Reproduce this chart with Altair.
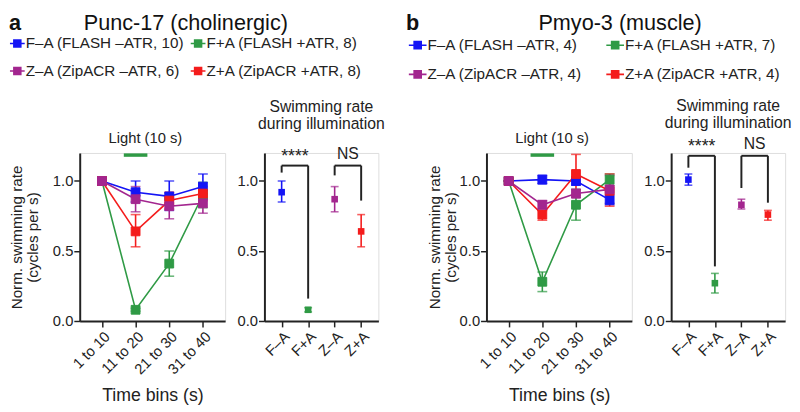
import altair as alt
import pandas as pd

FONT = "Liberation Sans"
INK = "#222222"

# ---------------- data ----------------
BINS = ["1 to 10", "11 to 20", "21 to 30", "31 to 40"]
GROUPS = ["F–A", "F+A", "Z–A", "Z+A"]
COLORS = ["#1414f5", "#2f9a45", "#a3268f", "#f41c1c"]
DRAW_ORDER = ["F–A", "F+A", "Z+A", "Z–A"]

LEGEND_A = ["F–A (FLASH –ATR, 10)", "F+A (FLASH +ATR, 8)",
            "Z–A (ZipACR –ATR, 6)", "Z+A (ZipACR +ATR, 8)"]
LEGEND_B = ["F–A (FLASH –ATR, 4)", "F+A (FLASH +ATR, 7)",
            "Z–A (ZipACR –ATR, 4)", "Z+A (ZipACR +ATR, 4)"]

# Panel a, time course
A_MEAN = {"F–A": [1.00, 0.92, 0.89, 0.96], "F+A": [1.00, 0.08, 0.41, 0.90],
          "Z–A": [1.00, 0.87, 0.82, 0.84], "Z+A": [1.00, 0.64, 0.86, 0.91]}
A_LO = {"F–A": [1.00, 0.85, 0.79, 0.87], "F+A": [1.00, 0.07, 0.32, 0.81],
        "Z–A": [1.00, 0.78, 0.73, 0.77], "Z+A": [1.00, 0.53, 0.80, 0.86]}
A_HI = {"F–A": [1.00, 1.00, 1.00, 1.05], "F+A": [1.00, 0.09, 0.50, 0.99],
        "Z–A": [1.00, 0.96, 0.91, 0.91], "Z+A": [1.00, 0.76, 0.92, 0.96]}

# Panel a, during illumination
A_DOT_MEAN = [0.92, 0.08, 0.87, 0.64]
A_DOT_LO = [0.85, 0.065, 0.78, 0.53]
A_DOT_HI = [1.00, 0.095, 0.96, 0.76]

# Panel b, time course
B_MEAN = {"F–A": [1.00, 1.01, 1.00, 0.865], "F+A": [1.00, 0.28, 0.83, 1.01],
          "Z–A": [1.00, 0.83, 0.91, 0.94], "Z+A": [1.00, 0.76, 1.05, 0.93]}
B_LO = {"F–A": [1.00, 0.98, 0.97, 0.83], "F+A": [1.00, 0.21, 0.72, 0.97],
        "Z–A": [1.00, 0.80, 0.88, 0.84], "Z+A": [1.00, 0.72, 0.90, 0.82]}
B_HI = {"F–A": [1.00, 1.04, 1.03, 0.90], "F+A": [1.00, 0.35, 0.94, 1.05],
        "Z–A": [1.00, 0.86, 0.94, 1.04], "Z+A": [1.00, 0.79, 1.19, 1.05]}

# Panel b, during illumination
B_DOT_MEAN = [1.01, 0.27, 0.83, 0.76]
B_DOT_LO = [0.97, 0.20, 0.80, 0.72]
B_DOT_HI = [1.05, 0.34, 0.87, 0.79]

# significance brackets
BRACKET_LEFT = ["F–A", "Z–A"]
BRACKET_RIGHT = ["F+A", "Z+A"]
BRACKET_TEXT = ["****", "NS"]
A_BR_TOP = [1.11, 1.11]
A_BR_LB = [1.06, 1.04]
A_BR_RB = [0.16, 0.86]
A_BR_TY = [1.135, 1.16]
B_BR_TOP = [1.18, 1.18]
B_BR_LB = [1.095, 0.95]
B_BR_RB = [0.39, 0.845]
B_BR_TY = [1.21, 1.23]

LIGHT_TEXT = ["Light (10 s)"]
LIGHT_BIN = "11 to 20"
LIGHT_Y = 1.185

YTITLE = ["Norm. swimming rate", "(cycles per s)"]
XTITLE = "Time bins (s)"
DOT_TITLE = ["Swimming rate", "during illumination"]

H = 171
W_TIME = 148
W_DOT = 116


def y_axis(title_pad):
    return alt.Axis(values=[0, 0.5, 1.0], format=".1f", tickSize=6, labelPadding=1,
                    titlePadding=title_pad, titleFontSize=15.5, titleLineHeight=16,
                    titleFontWeight="normal", titleColor=INK, labelFontSize=15,
                    labelColor=INK, domainColor=INK, domainWidth=2, tickColor=INK,
                    tickWidth=1.5, grid=False)


def Y(field, axis, title):
    return alt.Y(f"{field}:Q", scale=alt.Scale(domain=[0, 1.2], nice=False),
                 axis=axis, title=title)


color = alt.Color("group:N", scale=alt.Scale(domain=GROUPS, range=COLORS), legend=None)


def time_panel(mean, lo, hi, labels, letter, title, letter_x, title_x,
               leg_x, leg_y, col_pad, sym_size, sym_path, ytitle_pad):
    rows = []
    for g, lab in zip(GROUPS, labels):
        for i, b in enumerate(BINS):
            rows.append(dict(bin=b, group=g, label=lab, mean=mean[g][i],
                             lo=lo[g][i], hi=hi[g][i], order=DRAW_ORDER.index(g)))
    df = pd.DataFrame(rows).sort_values("order", kind="stable")
    xaxis = alt.Axis(labelAngle=-45, labelAlign="right", labelBaseline="top",
                     labelPadding=2, labelFontSize=15, labelColor=INK, tickSize=6,
                     tickWidth=1.5, tickColor=INK, domainColor=INK, domainWidth=2,
                     titleFontSize=18, titleFontWeight="normal", titleColor=INK,
                     titleY=81, titleBaseline="alphabetic", grid=False)
    xs = alt.Scale(type="point", domain=BINS, padding=0.66)
    x = alt.X("bin:N", scale=xs, axis=xaxis, title=XTITLE)
    yax = y_axis(ytitle_pad)
    base = alt.Chart(df)
    lines = base.mark_line(strokeWidth=1.6).encode(
        x=x, y=Y("mean", yax, YTITLE), color=color, detail="group:N")
    bars = base.mark_rule(strokeWidth=1.6).encode(
        x=x, y=Y("lo", yax, YTITLE), y2="hi:Q", color=color)
    cap_lo = base.mark_tick(size=10, thickness=1.6).encode(
        x=x, y=Y("lo", yax, YTITLE), color=color)
    cap_hi = base.mark_tick(size=10, thickness=1.6).encode(
        x=x, y=Y("hi", yax, YTITLE), color=color)
    # legend entries fill column by column: put row-1 items in first/third slot
    leg_domain = [labels[0], labels[2], labels[1], labels[3]]
    leg_range = [COLORS[0], COLORS[2], COLORS[1], COLORS[3]]
    legend = alt.Legend(orient="none", legendX=leg_x, legendY=leg_y, columns=2,
                        title=None, symbolType=sym_path, symbolSize=sym_size,
                        symbolStrokeWidth=1.6, labelFontSize=15.5, labelFont=FONT,
                        labelColor=INK, rowPadding=11, columnPadding=col_pad,
                        labelOffset=0, symbolOffset=0, padding=0, labelLimit=400)
    squares = base.mark_square(size=80, opacity=1, strokeWidth=1).encode(
        x=x, y=Y("mean", yax, YTITLE),
        fill=alt.Fill("label:N", scale=alt.Scale(domain=leg_domain, range=leg_range), legend=legend),
        stroke=alt.Stroke("label:N", scale=alt.Scale(domain=leg_domain, range=leg_range), legend=legend))

    light_df = pd.DataFrame({"t": LIGHT_TEXT, "b": [LIGHT_BIN], "y": [LIGHT_Y]})
    light_bar = alt.Chart(light_df).mark_rule(
        strokeWidth=3.5, color=COLORS[1], xOffset=-12, x2Offset=12).encode(
        x=alt.X("b:N", scale=xs, axis=xaxis, title=XTITLE),
        x2="b:N", y=Y("y", yax, YTITLE))
    light_txt = alt.Chart(light_df).mark_text(
        fontSize=15, font=FONT, color=INK, dx=10, baseline="middle").encode(
        x=alt.X("b:N", scale=xs, axis=xaxis, title=XTITLE),
        y=alt.value(-15), text="t:N")

    head_df = pd.DataFrame({"letter": [letter], "title": [title]})
    letter_txt = alt.Chart(head_df).mark_text(
        fontSize=22, fontWeight="bold", font=FONT, color="#111", align="left",
        baseline="top").encode(x=alt.value(letter_x), y=alt.value(-142), text="letter:N")
    title_txt = alt.Chart(head_df).mark_text(
        fontSize=22, font=FONT, color="#111", align="center",
        baseline="top").encode(x=alt.value(title_x), y=alt.value(-142), text="title:N")

    return alt.layer(lines, bars, cap_lo, cap_hi, squares, light_bar, light_txt,
                     letter_txt, title_txt).properties(width=W_TIME, height=H)


def dot_panel(mean, lo, hi, br_top, br_lb, br_rb, br_ty, width, title_offset):
    df = pd.DataFrame({"group": GROUPS, "mean": mean, "lo": lo, "hi": hi})
    xaxis = alt.Axis(labelAngle=-45, labelAlign="right", labelBaseline="top",
                     labelPadding=2, labelFontSize=15, labelColor=INK, tickSize=6,
                     tickWidth=1.5, tickColor=INK, domainColor=INK, domainWidth=2,
                     grid=False)
    xs = alt.Scale(type="point", domain=GROUPS, padding=0.65)
    x = alt.X("group:N", scale=xs, axis=xaxis, title=None)
    yax = y_axis(0)
    base = alt.Chart(df)
    bars = base.mark_rule(strokeWidth=1.6).encode(
        x=x, y=Y("lo", yax, None), y2="hi:Q", color=color)
    cap_lo = base.mark_tick(size=8, thickness=1.6).encode(
        x=x, y=Y("lo", yax, None), color=color)
    cap_hi = base.mark_tick(size=8, thickness=1.6).encode(
        x=x, y=Y("hi", yax, None), color=color)
    squares = base.mark_square(size=45, opacity=1).encode(
        x=x, y=Y("mean", yax, None), color=color)

    bdf = pd.DataFrame({"g1": BRACKET_LEFT, "g2": BRACKET_RIGHT, "top": br_top,
                        "lb": br_lb, "rb": br_rb, "ty": br_ty, "sig": BRACKET_TEXT})
    bb = alt.Chart(bdf)
    horiz = bb.mark_rule(strokeWidth=2, color=INK).encode(
        x=alt.X("g1:N", scale=xs, axis=xaxis, title=None), x2="g2:N",
        y=Y("top", yax, None))
    leg_l = bb.mark_rule(strokeWidth=2, color=INK).encode(
        x=alt.X("g1:N", scale=xs, axis=xaxis, title=None),
        y=Y("top", yax, None), y2="lb:Q")
    leg_r = bb.mark_rule(strokeWidth=2, color=INK).encode(
        x=alt.X("g2:N", scale=xs, axis=xaxis, title=None),
        y=Y("top", yax, None), y2="rb:Q")
    step = width / (len(GROUPS) - 1 + 2 * 0.65)
    stars = bb.transform_filter(alt.datum.sig == "****").mark_text(
        fontSize=18, font=FONT, color=INK, dx=step / 2, baseline="alphabetic").encode(
        x=alt.X("g1:N", scale=xs, axis=xaxis, title=None),
        y=Y("ty", yax, None), text="sig:N")
    ns = bb.transform_filter(alt.datum.sig != "****").mark_text(
        fontSize=16, font=FONT, color=INK, dx=step / 2, baseline="alphabetic").encode(
        x=alt.X("g1:N", scale=xs, axis=xaxis, title=None),
        y=Y("ty", yax, None), text="sig:N")
    return alt.layer(bars, cap_lo, cap_hi, squares, horiz, leg_l, leg_r, stars, ns).properties(
        width=width, height=H,
        title=alt.TitleParams(DOT_TITLE, fontSize=16, fontWeight="normal", font=FONT,
                              color=INK, lineHeight=17, offset=title_offset,
                              anchor="middle", frame="group"))


a_time = time_panel(A_MEAN, A_LO, A_HI, LEGEND_A, "a", "Punc-17 (cholinergic)",
                    -72, 108, -72, -120, 2, 225,
                    "M-1,0H1M-0.47,-0.47H0.47V0.47H-0.47Z", 12)
a_dot = dot_panel(A_DOT_MEAN, A_DOT_LO, A_DOT_HI, A_BR_TOP, A_BR_LB, A_BR_RB, A_BR_TY,
                  W_DOT, 14)
b_time = time_panel(B_MEAN, B_LO, B_HI, LEGEND_B, "b", "Pmyo-3 (muscle)",
                    -82, 136, -80, -120, 20, 324,
                    "M-1,0H1M-0.4,-0.4H0.4V0.4H-0.4Z", 1)
b_dot = dot_panel(B_DOT_MEAN, B_DOT_LO, B_DOT_HI, B_BR_TOP, B_BR_LB, B_BR_RB, B_BR_TY,
                  W_DOT, 5)

spacer = alt.Chart(pd.DataFrame({"v": [0]})).mark_point(opacity=0).encode(
    x=alt.value(0), y=alt.value(0)).properties(
    width=30, height=H, view=alt.ViewBackground(stroke="transparent", fill="transparent"))

chart = alt.hconcat(a_time, a_dot, spacer, b_time, b_dot, spacing=40,
                    bounds="flush", padding=0).resolve_scale(
    fill="independent", stroke="independent").resolve_legend(
    fill="independent", stroke="independent").configure_view(
    stroke=None).configure(font=FONT)

chart.save("out.html", embed_options={"renderer": "svg", "actions": False})
